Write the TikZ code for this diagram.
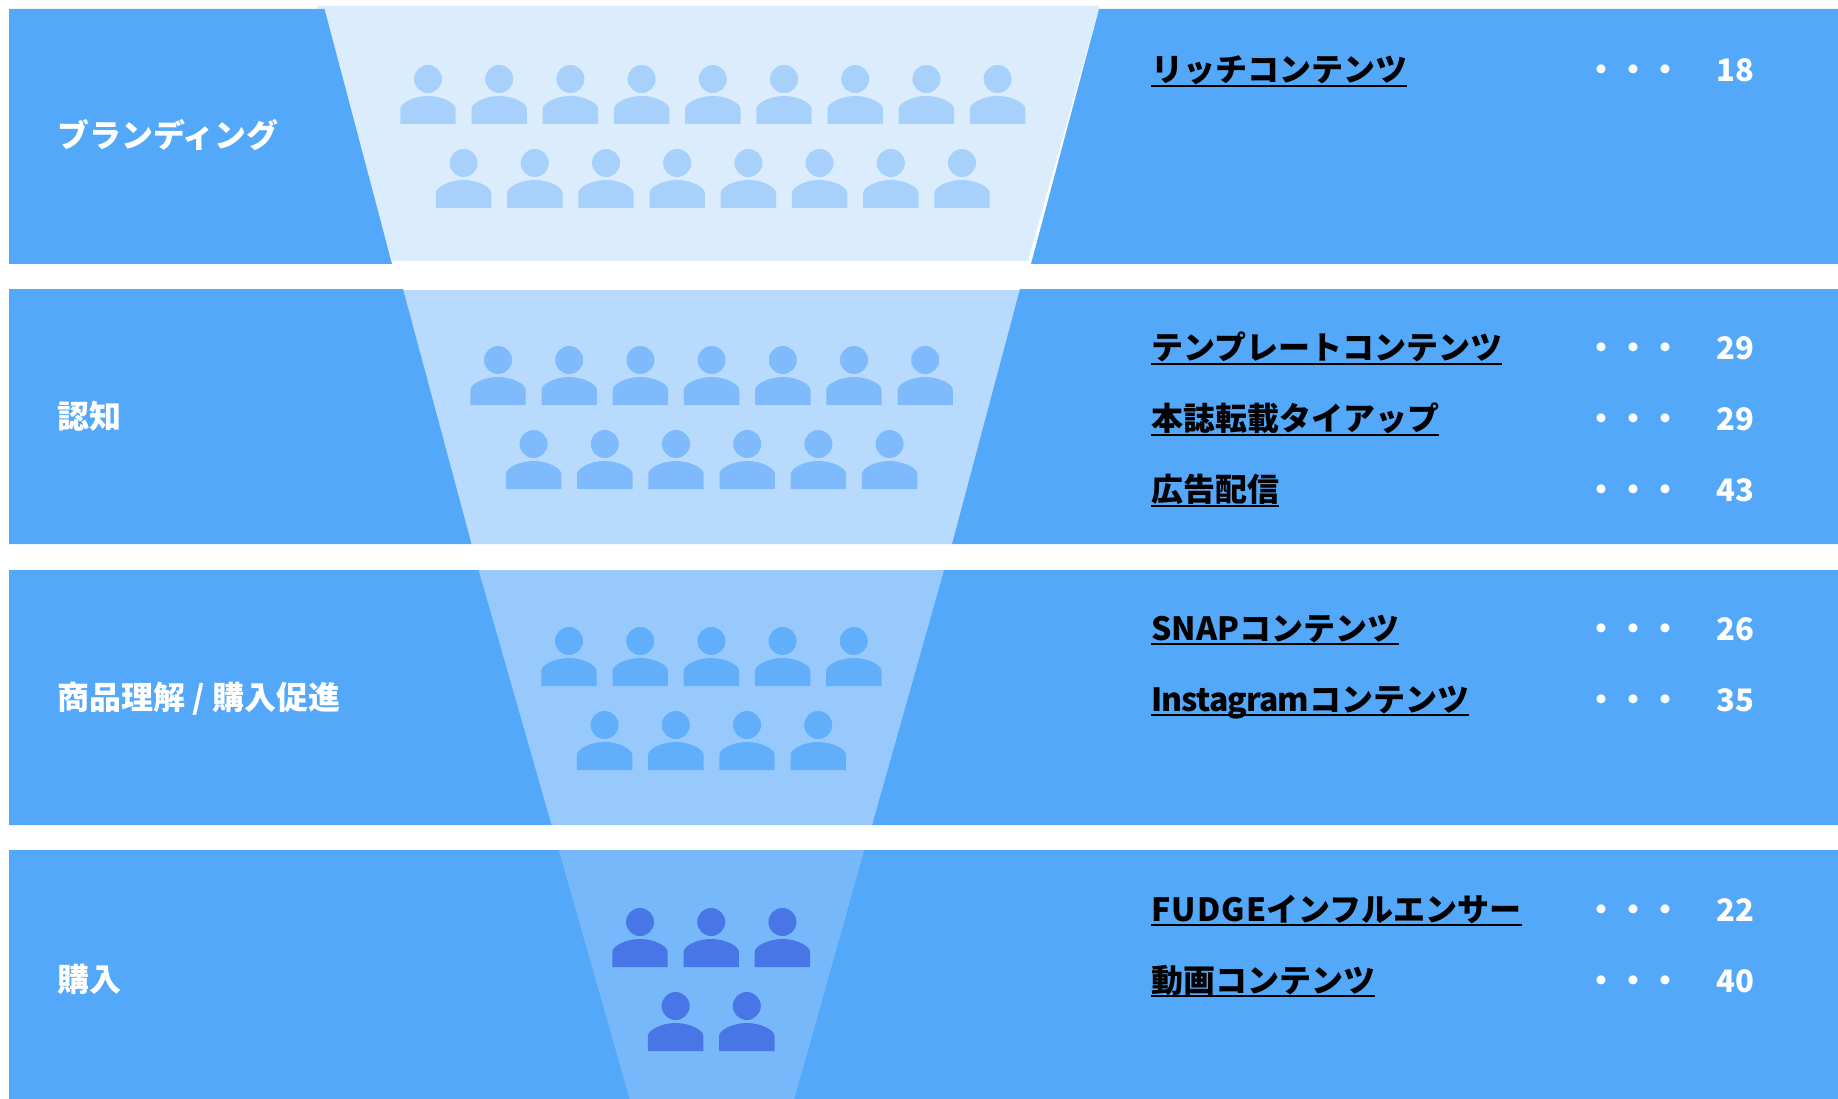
\documentclass[tikz,border=0pt]{standalone}
\usepackage{fontspec}
\setmainfont{Noto Sans CJK JP}
\usepackage{tikz}
\usetikzlibrary{positioning}
\definecolor{bandblue}{HTML}{53A8FA}
\definecolor{funnela}{HTML}{DBECFD}
\definecolor{funnelb}{HTML}{B8DAFD}
\definecolor{funnelc}{HTML}{98C9FC}
\definecolor{funneld}{HTML}{76B8F9}
\definecolor{mana}{HTML}{A7D1FB}
\definecolor{manb}{HTML}{7FBBFC}
\definecolor{manc}{HTML}{61AEFB}
\definecolor{mand}{HTML}{4876E6}
\tikzset{
  stagelabel/.style={anchor=base west,inner sep=0pt,text=white,font=\fontsize{32}{38}\selectfont\bfseries},
  itemlabel/.style={anchor=base west,inner sep=0pt,text=black,font=\fontsize{32}{38}\selectfont\bfseries},
  itemdots/.style={anchor=base,inner sep=0pt,text=white,font=\fontsize{32}{38}\selectfont\bfseries},
  itemcount/.style={anchor=base,inner sep=0pt,text=white,font=\fontsize{31}{38}\selectfont\bfseries},
  underline/.style={line width=2pt,black},
  man/.pic={
    \fill (0,-45) circle (14);
    \fill (-27.7,0) -- (-27.7,-15) .. controls (-27.7,-21) and (-14,-28) .. (0,-28) .. controls (14,-28) and (27.7,-21) .. (27.7,-15) -- (27.7,0) -- cycle;
  }
}
% row of people: colour, first x, y, how many
\newcommand{\manrow}[4]{
  \foreach \i in {1,...,#4}
    \pic[color=#1,fill=#1] at ({#2+71.2*(\i-1)},#3) {man};
}
\begin{document}
\begin{tikzpicture}[x=1pt,y=-1pt]
\useasboundingbox (0,0) rectangle (1838,1099);
% funnel
\fill[color=funnela] (317,6) -- (1099.5,6) -- (1028,261) -- (392,261) -- cycle;
\fill[color=funnelb] (403,290) -- (1020,290) -- (952,544) -- (471,544) -- cycle;
\fill[color=funnelc] (478,570) -- (944,570) -- (872,825) -- (551,825) -- cycle;
\fill[color=funneld] (559,850) -- (864,850) -- (794,1099) -- (629,1099) -- cycle;
% bands
\fill[color=bandblue] (9,9) -- (324.5,9) -- (392,264) -- (9,264) -- cycle;
\fill[color=bandblue] (1099,9) -- (1838,9) -- (1838,264) -- (1031,264) -- cycle;
\fill[color=bandblue] (9,289) -- (403,289) -- (471.5,544) -- (9,544) -- cycle;
\fill[color=bandblue] (1020,289) -- (1838,289) -- (1838,544) -- (952,544) -- cycle;
\fill[color=bandblue] (9,570) -- (478.5,570) -- (551.5,825) -- (9,825) -- cycle;
\fill[color=bandblue] (944,570) -- (1838,570) -- (1838,825) -- (872,825) -- cycle;
\fill[color=bandblue] (9,850) -- (559,850) -- (629.5,1099) -- (9,1099) -- cycle;
\fill[color=bandblue] (864,850) -- (1838,850) -- (1838,1099) -- (794,1099) -- cycle;
% people
\manrow{mana}{428}{124}{9}
\manrow{mana}{463.6}{208}{8}
\manrow{manb}{498}{405}{7}
\manrow{manb}{533.6}{489}{6}
\manrow{manc}{569}{686}{5}
\manrow{manc}{604.6}{770}{4}
\manrow{mand}{640}{967}{3}
\manrow{mand}{675.6}{1051}{2}
% left labels
\node[stagelabel] (brand) at (57,148) {ブランディング};
\node[stagelabel] (aware) at (57,428) {認知};
\node[stagelabel] (under) at (57,709) {商品理解 / 購入促進};
\node[stagelabel] (buy) at (57,991) {購入};
% right items
\node[itemlabel] (rich) at (1151,81.5) {リッチコンテンツ};
\node[itemdots] (richd) at (1633,81.5) {・・・};
\node[itemcount] (richn) at (1735,81.5) {18};
\node[itemlabel] (temp) at (1151,359) {テンプレートコンテンツ};
\node[itemdots] (tempd) at (1633,359) {・・・};
\node[itemcount] (tempn) at (1735,359) {29};
\node[itemlabel] (tie) at (1151,430) {本誌転載タイアップ};
\node[itemdots] (tied) at (1633,430) {・・・};
\node[itemcount] (tien) at (1735,430) {29};
\node[itemlabel] (ads) at (1151,501) {広告配信};
\node[itemdots] (adsd) at (1633,501) {・・・};
\node[itemcount] (adsn) at (1735,501) {43};
\node[itemlabel] (snap) at (1151,640) {SNAPコンテンツ};
\node[itemdots] (snapd) at (1633,640) {・・・};
\node[itemcount] (snapn) at (1735,640) {26};
\node[itemlabel] (insta) at (1151,711) {{\addfontfeature{LetterSpace=-2.8}Instagram}コンテンツ};
\node[itemdots] (instad) at (1633,711) {・・・};
\node[itemcount] (instan) at (1735,711) {35};
\node[itemlabel] (fudge) at (1151,921.5) {{\addfontfeature{LetterSpace=3.5}FUDGE}インフルエンサー};
\node[itemdots] (fudged) at (1633,921.5) {・・・};
\node[itemcount] (fudgen) at (1735,921.5) {22};
\node[itemlabel] (movie) at (1151,992) {動画コンテンツ};
\node[itemdots] (movied) at (1633,992) {・・・};
\node[itemcount] (movien) at (1735,992) {40};
% underlines
\foreach \nm/\yy in {rich/86,temp/363.5,tie/434.5,ads/505.5,snap/644,insta/715,fudge/925,movie/996}
  \draw[underline] (\nm.west |- 0,\yy) -- (\nm.east |- 0,\yy);
\end{tikzpicture}
\end{document}
